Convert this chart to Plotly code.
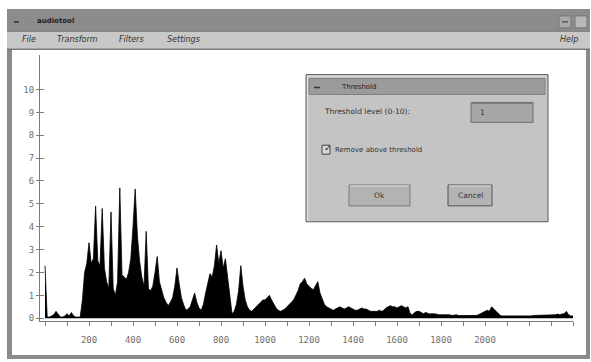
import plotly.graph_objects as go

# ---------------- data ----------------
freq = list(range(0, 2410, 10))
amplitude = (
    [2.3, 0.05, 0.05, 0.1, 0.15, 0.3, 0.15, 0.05, 0.05, 0.1]        # 0-90
    + [0.2, 0.1, 0.25, 0.1, 0.05, 0.05, 0.05, 0.8, 2.0, 2.4]      # 100-190
    + [3.3, 2.4, 2.6, 4.9, 2.5, 2.3, 4.8, 2.2, 1.6, 1.3]          # 200-290
    + [4.65, 1.3, 1.0, 1.6, 5.7, 1.9, 1.8, 1.7, 2.0, 2.6]         # 300-390
    + [4.0, 5.65, 3.6, 2.5, 1.8, 1.4, 3.8, 1.3, 1.2, 1.4]         # 400-490
    + [2.0, 2.7, 1.6, 1.2, 0.9, 0.7, 0.55, 0.7, 0.9, 1.4]         # 500-590
    + [2.2, 1.5, 0.9, 0.6, 0.35, 0.4, 0.5, 0.8, 1.1, 0.7]         # 600-690
    + [0.45, 0.35, 0.6, 1.1, 1.6, 1.95, 1.8, 2.3, 3.2, 2.4]       # 700-790
    + [2.95, 2.2, 2.6, 1.8, 0.9, 0.2, 0.3, 0.6, 1.2, 2.3]         # 800-890
    + [1.4, 0.8, 0.5, 0.35, 0.3, 0.4, 0.5, 0.6, 0.7, 0.8]         # 900-990
    + [0.8, 0.9, 1.0, 0.8, 0.6, 0.45, 0.35, 0.3, 0.35, 0.4]       # 1000-1090
    + [0.5, 0.6, 0.7, 0.8, 1.0, 1.2, 1.5, 1.6, 1.75, 1.5]         # 1100-1190
    + [1.4, 1.3, 1.25, 1.4, 1.6, 1.1, 0.8, 0.6, 0.5, 0.45]        # 1200-1290
    + [0.4, 0.35, 0.4, 0.45, 0.5, 0.45, 0.4, 0.45, 0.5, 0.45]     # 1300-1390
    + [0.4, 0.35, 0.35, 0.4, 0.45, 0.4, 0.4, 0.35, 0.3, 0.3]      # 1400-1490
    + [0.3, 0.3, 0.35, 0.3, 0.35, 0.45, 0.5, 0.55, 0.5, 0.5]      # 1500-1590
    + [0.45, 0.5, 0.55, 0.5, 0.45, 0.5, 0.2, 0.15, 0.25, 0.3]     # 1600-1690
    + [0.3, 0.25, 0.2, 0.25, 0.2, 0.18, 0.2, 0.2, 0.18, 0.15]     # 1700-1790
    + [0.15, 0.15, 0.18, 0.15, 0.15, 0.12, 0.15, 0.15, 0.12, 0.12]  # 1800-1890
    + [0.1, 0.1, 0.1, 0.1, 0.1, 0.1, 0.12, 0.15, 0.2, 0.25]       # 1900-1990
    + [0.3, 0.35, 0.3, 0.5, 0.4, 0.3, 0.2, 0.12, 0.1, 0.1]        # 2000-2090
    + [0.1, 0.1, 0.08, 0.1, 0.1, 0.1, 0.08, 0.1, 0.1, 0.1]        # 2100-2190
    + [0.1, 0.1, 0.12, 0.12, 0.15, 0.15, 0.15, 0.12, 0.15, 0.15]  # 2200-2290
    + [0.15, 0.15, 0.15, 0.18, 0.15, 0.18, 0.2, 0.3, 0.15, 0.1]   # 2300-2390
    + [0.1]                                                      # 2400
)

x_tick_vals = list(range(0, 2500, 100))
x_tick_text = ["", "", "200", "", "400", "", "600", "", "800", "", "1000", "",
               "1200", "", "1400", "", "1600", "", "1800", "", "2000", "", "", "", ""]
y_tick_vals = [0, 1, 2, 3, 4, 5, 6, 7, 8, 9, 10]
y_tick_text = ["0", "1", "2", "3", "4", "5", "6", "7", "8", "9", "10"]

window_title = "audiotool"
menu_items = ["File", "Transform", "Filters", "Settings"]
help_item = "Help"
dialog_title = "Threshold"
dialog_label = "Threshold level (0-10):"
dialog_value = "1"
dialog_check = "Remove above threshold"
btn_ok = "Ok"
btn_cancel = "Cancel"

# ---------------- layout helpers ----------------
W, H = 591, 362


def X(px):
    return px / W


def Y(py):
    return 1 - py / H


shapes = []
annotations = []


def rect(x0, y0, x1, y1, fill, line=None, lw=1, layer="below"):
    shapes.append(dict(type="rect", xref="paper", yref="paper",
                       x0=X(x0), x1=X(x1), y0=Y(y1), y1=Y(y0),
                       fillcolor=fill,
                       line=dict(color=line if line else fill, width=lw if line else 0),
                       layer=layer))


def hline(x0, x1, y, color, lw=1, layer="below"):
    shapes.append(dict(type="line", xref="paper", yref="paper",
                       x0=X(x0), x1=X(x1), y0=Y(y), y1=Y(y),
                       line=dict(color=color, width=lw), layer=layer))


def vline(x, y0, y1, color, lw=1, layer="below"):
    shapes.append(dict(type="line", xref="paper", yref="paper",
                       x0=X(x), x1=X(x), y0=Y(y0), y1=Y(y1),
                       line=dict(color=color, width=lw), layer=layer))


def text(px, py, s, size=8, color="#333333", anchor="left", italic=False, family="DejaVu Sans"):
    annotations.append(dict(xref="paper", yref="paper", x=X(px), y=Y(py),
                            text=f"<i>{s}</i>" if italic else s, showarrow=False,
                            xanchor=anchor, yanchor="middle",
                            font=dict(size=size, color=color, family=family)))


# window frame
rect(7, 9, 590, 361, "#8a8a8a")
rect(12, 50, 586, 357, "#ffffff")
# title bar
rect(7, 9, 590, 31, "#8c8c8c")
hline(7, 590, 31.5, "#6e6e6e")
hline(14, 19, 22, "#333333", 1.5)
text(35, 21, "<b>" + window_title + "</b>", 7, "#222222")
rect(559, 16, 571, 28, "#a8a8a8", "#777777")
hline(562, 568, 22, "#333333", 1)
rect(575, 16, 587, 28, "#b8b8b8", "#777777")
# menu bar
rect(7, 32, 590, 49, "#c8c8c8")
hline(7, 590, 49.5, "#6a6a6a")
menu_x = [20, 55, 117, 165]
for mx, m in zip(menu_x, menu_items):
    text(mx, 40, m, 8, "#333333", italic=True)
text(580, 40, help_item, 8, "#333333", anchor="right", italic=True)

# dialog (above plot)
L = "above"
rect(306, 75, 548, 223, "#c4c4c4", "#5a5a5a", 1, L)
hline(307, 547, 76.5, "#e6e6e6", 1, L)
vline(307.5, 76, 222, "#e6e6e6", 1, L)
rect(309, 79, 545, 95, "#9b9b9b", "#808080", 1, L)
hline(314, 320, 88, "#333333", 1.5, L)
text(339, 87, dialog_title, 7, "#222222")
text(322, 112, dialog_label, 7.5, "#333333")
rect(471, 103, 533, 123, "#a6a6a6", "#6f6f6f", 1, L)
hline(472, 532, 104, "#7a7a7a", 1, L)
text(478, 113, dialog_value, 7.5, "#333333")
rect(322, 146, 330, 155, "#d8d8d8", "#444444", 1, L)
text(322, 149, "✓", 9, "#222222")
text(333, 151, dialog_check, 7, "#333333")
rect(349, 186, 410, 207, "#b3b3b3", "#7a7a7a", 1, L)
hline(350, 409, 187, "#dedede", 1, L)
text(379.5, 196.5, btn_ok, 7.5, "#333333", anchor="center")
rect(448, 186, 492, 207, "#b3b3b3", "#555555", 1, L)
hline(449, 491, 187, "#dedede", 1, L)
text(470, 196.5, btn_cancel, 7.5, "#333333", anchor="center")

# ---------------- figure ----------------
fig = go.Figure()
fig.add_trace(go.Scatter(x=freq, y=amplitude, mode="lines",
                         line=dict(color="#000000", width=0.8),
                         fill="tozeroy", fillcolor="#000000",
                         hoverinfo="skip", showlegend=False))

x_px_per_unit = 0.22
y_px_per_unit = 23.0
x_dom = [X(40), X(573)]
y_dom = [Y(323), Y(55)]
x_range = [-5 / x_px_per_unit, 2400]
y_range = [-3 / y_px_per_unit, (320 - 55) / y_px_per_unit]

axis_color = "#7a7a7a"
tick_font = dict(family="DejaVu Sans Mono", size=9, color="#707070")

fig.update_layout(
    width=W, height=H,
    margin=dict(l=0, r=0, t=0, b=0),
    paper_bgcolor="#ffffff",
    plot_bgcolor="rgba(0,0,0,0)",
    shapes=shapes,
    annotations=annotations,
    xaxis=dict(domain=x_dom, range=x_range, showgrid=False, zeroline=False,
               showline=True, linecolor=axis_color, linewidth=1,
               tickvals=x_tick_vals, ticktext=x_tick_text,
               ticks="outside", ticklen=4, tickcolor=axis_color,
               ticklabelstandoff=6,
               tickfont=tick_font, anchor="y"),
    yaxis=dict(domain=y_dom, range=y_range, showgrid=False, zeroline=False,
               showline=True, linecolor=axis_color, linewidth=1,
               tickvals=y_tick_vals, ticktext=y_tick_text,
               ticks="outside", ticklen=3, tickcolor=axis_color,
               tickfont=tick_font, anchor="x"),
    yaxis2=dict(domain=y_dom, range=y_range, overlaying="y", showgrid=False,
                zeroline=False, showline=False, tickvals=y_tick_vals,
                showticklabels=False, ticks="inside", ticklen=4,
                tickcolor=axis_color, anchor="x", side="left"),
)
# invisible trace to activate yaxis2
fig.add_trace(go.Scatter(x=[None], y=[None], yaxis="y2", showlegend=False,
                         hoverinfo="skip"))

fig.write_html(
    "out.html",
    config={"displayModeBar": False},
    post_script="document.body.style.margin='0';document.body.style.overflow='hidden';",
)
